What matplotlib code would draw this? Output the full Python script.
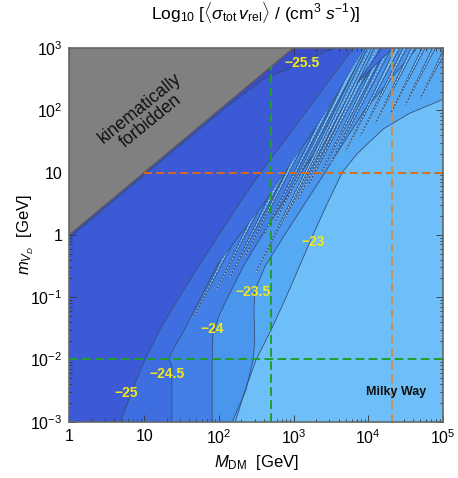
import matplotlib
matplotlib.use('Agg')
import matplotlib.pyplot as plt
import matplotlib.ticker as mticker
from matplotlib.patches import Polygon

plt.rcParams['font.family'] = ['Liberation Sans', 'DejaVu Sans']
plt.rcParams['mathtext.fontset'] = 'custom'
plt.rcParams['mathtext.rm'] = 'Liberation Sans'
plt.rcParams['mathtext.it'] = 'Liberation Sans:italic'
plt.rcParams['mathtext.bf'] = 'Liberation Sans:bold'

# contour boundaries, as (log10 m_V, log10 M_DM) pairs
# level -25.5 (thin strip under the forbidden line)
b255_logm = [-0.05, 1.0, 2.0, 2.5, 2.65, 2.85, 3.0]
b255_logM = [0.0, 1.04, 2.05, 2.6, 2.91, 3.25, 3.55]
# level -25
b25_logm = [-3.0, -2.5, -2.0, -1.5, -1.0, -0.5, 0.0, 0.5, 1.0, 1.5, 2.0, 2.5, 3.0]
b25_logM = [0.685, 0.84, 1.01, 1.22, 1.47, 1.73, 2.0, 2.27, 2.56, 2.87, 3.18, 3.49, 3.8]
# level -24.5
b245_logm = [-3.0, -2.1, -2.0, -1.9, -1.5, -1.0, -0.5, 0.0, 0.5, 1.0, 1.5, 2.0, 2.5, 3.0]
b245_logM = [1.37, 1.37, 1.33, 1.36, 1.55, 1.76, 1.97, 2.28, 2.6, 2.88, 3.17, 3.45, 3.7, 3.95]
# level -24
b24_logm = [-3.0, -2.0, -1.6, -1.3, -1.0, -0.5, 0.0, 0.5, 1.0, 1.5, 2.0, 2.5, 3.0]
b24_logM = [1.91, 1.91, 1.92, 2.0, 2.12, 2.33, 2.58, 2.85, 3.1, 3.38, 3.65, 3.95, 4.25]
# level -23.5
b235_logm = [-3.0, -2.5, -2.0, -1.7, -1.2, -0.9, -0.5, 0.0, 0.5, 1.0, 1.5, 2.0, 2.5, 3.0]
b235_logM = [2.18, 2.36, 2.46, 2.48, 2.47, 2.48, 2.62, 2.88, 3.15, 3.42, 3.68, 3.95, 4.3, 4.65]
# level -23
b23_logm = [-3.0, -2.5, -2.0, -1.5, -1.0, -0.5, 0.0, 0.5, 1.0, 1.3, 1.7, 1.95, 2.2, 3.0]
b23_logM = [2.22, 2.35, 2.5, 2.71, 2.9, 3.08, 3.26, 3.45, 3.65, 3.85, 4.2, 4.55, 5.05, 5.05]

# resonance tongues: tip (log10 M, log10 m), far end at the top edge, end width
tongue_tip_M = [1.66, 1.97, 2.15, 2.35, 2.5, 2.6, 2.75, 2.9, 3.05, 3.2, 3.35, 3.5,
                3.7, 3.9, 4.1, 4.3, 4.5, 4.7]
tongue_tip_m = [-1.33, -0.88, -0.68, -0.35, -0.6, 0.0, 0.2, 0.3, 0.55, 0.8, 0.95, 1.15,
                1.35, 1.6, 1.8, 1.95, 2.1, 2.2]
tongue_end_M = [3.48, 3.6, 3.7, 3.76, 4.0, 3.86, 3.93, 4.03, 4.08, 4.12, 4.21, 4.28,
                4.39, 4.49, 4.6, 4.74, 4.88, 5.04]
tongue_width = [0.2, 0.16, 0.14, 0.1, 0.08, 0.09, 0.07, 0.08, 0.07, 0.08, 0.06, 0.07,
                0.06, 0.05, 0.05, 0.04, 0.04, 0.04]
tongue_level = [4, 4, 4, 5, 5, 4, 5, 4, 5, 4, 5, 4, 5, 5, 5, 5, 5, 5]

# wider dark resonance dip near the top
dip_tip = (3.85, 2.44)
dip_end_M = [4.18, 4.33]

level_colors = ['#3a4cc8', '#3c5ad6', '#3e6ee0', '#4280e8', '#4a96ee', '#56aaf3', '#6ebef7']
line_color = '#34507a'

fig = plt.figure(figsize=(4.58, 4.78), dpi=100)
ax = fig.add_axes([0.1517, 0.1178, 0.8155, 0.7818])
ax.set_xscale('log')
ax.set_yscale('log')
ax.set_xlim(1, 1e5)
ax.set_ylim(1e-3, 1e3)


def fill_left(logM, logm, color):
    xs = [1.0] + [10 ** v for v in logM] + [1.0]
    ys = [10 ** logm[0]] + [10 ** v for v in logm] + [10 ** logm[-1]]
    ax.fill(xs, ys, color=color, lw=0, zorder=1)
    ax.plot([10 ** v for v in logM], [10 ** v for v in logm],
            color=line_color, lw=0.6, zorder=2)


# background = highest level, then layer the lower levels on top from the left
ax.fill([1, 1e5, 1e5, 1], [1e-3, 1e-3, 1e3, 1e3], color=level_colors[6], lw=0, zorder=0)
fill_left(b23_logM, b23_logm, level_colors[5])
fill_left(b235_logM, b235_logm, level_colors[4])
fill_left(b24_logM, b24_logm, level_colors[3])

# tongues live right of the -24.5 line
clip_xy = ([(10 ** a, 10 ** b) for a, b in zip(b245_logM, b245_logm)]
           + [(10 ** 5.3, 1e3), (10 ** 5.3, 1e-3)])
clip = Polygon(clip_xy, closed=True, transform=ax.transData, visible=False)
ax.add_patch(clip)

for i in range(len(tongue_tip_M)):
    tx, ty = 10 ** tongue_tip_M[i], 10 ** tongue_tip_m[i]
    e1 = 10 ** (tongue_end_M[i] - tongue_width[i] / 2)
    e2 = 10 ** (tongue_end_M[i] + tongue_width[i] / 2)
    p = ax.fill([tx, e1, e2], [ty, 1e3, 1e3], facecolor=level_colors[tongue_level[i]],
                edgecolor='none', zorder=3)[0]
    p.set_clip_path(clip)
    for ex in (e1, e2):
        ln = ax.plot([tx, ex], [ty, 1e3], color=line_color, lw=0.6, zorder=3)[0]
        ln.set_clip_path(clip)
    mid = ax.plot([tx, 10 ** tongue_end_M[i]], [ty, 1e3], color='#b4dcf6', lw=0.7,
                  ls=(0, (1.5, 2)), zorder=3)[0]
    mid.set_clip_path(clip)

dx = [10 ** dip_tip[0], 10 ** dip_end_M[0], 10 ** dip_end_M[1]]
dy = [10 ** dip_tip[1], 1e3, 1e3]
ax.fill(dx, dy, facecolor=level_colors[2], edgecolor=line_color, lw=0.6, zorder=3)

fill_left(b245_logM, b245_logm, level_colors[2])
fill_left(b25_logM, b25_logm, level_colors[1])
fill_left(b255_logM, b255_logm, level_colors[0])

# kinematically forbidden region
ax.fill([1, 1e3, 1], [1, 1e3, 1e3], color='#808080', lw=0, zorder=4)
ax.plot([1, 1e3], [1, 1e3], color='#5a5a5a', lw=1.0, zorder=4)
ax.text(10 ** 1.02, 10 ** 1.93, 'kinematically\nforbidden', rotation=39,
        ha='center', va='center', multialignment='center', fontsize=12.8,
        color='#111111', linespacing=1.0, zorder=5)

# reference lines
ax.plot([1, 1e5], [1e-2, 1e-2], color='#1fa02a', lw=1.4, ls=(0, (4.5, 2.2)), zorder=6)
ax.plot([500, 500], [1e-3, 500], color='#1fa02a', lw=1.4, ls=(0, (4.5, 2.2)), zorder=6)
ax.plot([10, 1e5], [10, 10], color='#e06a10', lw=1.3, ls=(0, (4.5, 2.2)), zorder=6)
ax.plot([2.1e4, 2.1e4], [1e-3, 1e3], color='#c89050', lw=1.4, ls=(0, (4.5, 2.2)), zorder=6)

# contour labels
lab_text = ['\u221225.5', '\u221225', '\u221224.5', '\u221224', '\u221223.5', '\u221223']
lab_logM = [3.12, 0.76, 1.31, 1.91, 2.46, 3.26]
lab_logm = [2.76, -2.54, -2.23, -1.51, -0.92, -0.11]
for t, lx, ly in zip(lab_text, lab_logM, lab_logm):
    ax.text(10 ** lx, 10 ** ly, t, ha='center', va='center', fontsize=10,
            fontweight='bold', color='#f4e61a', zorder=7)

ax.text(10 ** 4.37, 10 ** -2.52, 'Milky Way', ha='center', va='center',
        fontsize=9, fontweight='bold', color='#111111', zorder=7)

xt_labels = ['1', '10', r'$10^2$', r'$10^3$', r'$10^4$', r'$10^5$']
yt_labels = [r'$10^{-3}$', r'$10^{-2}$', r'$10^{-1}$', '1', '10', r'$10^2$', r'$10^3$']
ax.set_xticks([1, 10, 100, 1e3, 1e4, 1e5])
ax.set_xticklabels(xt_labels)
ax.set_yticks([1e-3, 1e-2, 1e-1, 1, 10, 100, 1e3])
ax.set_yticklabels(yt_labels)
ax.xaxis.set_minor_locator(mticker.LogLocator(base=10, subs=range(2, 10), numticks=20))
ax.yaxis.set_minor_locator(mticker.LogLocator(base=10, subs=range(2, 10), numticks=20))
ax.xaxis.set_minor_formatter(mticker.NullFormatter())
ax.yaxis.set_minor_formatter(mticker.NullFormatter())
ax.tick_params(which='both', direction='in', top=True, right=True,
               color='#333333', labelsize=11.5, width=0.6)
ax.tick_params(which='major', length=5, pad=5)
ax.tick_params(which='minor', length=2.5)
for s in ax.spines.values():
    s.set_color('#666666')
    s.set_linewidth(1.2)
    s.set_zorder(8)

ax.set_xlabel(r'$M_{\rm DM}$  [GeV]', fontsize=12, labelpad=4)
ax.set_ylabel(r'$m_{V_D}$  [GeV]', fontsize=12, labelpad=-4)
ax.set_title(r'Log$_{10}$ [$\langle\sigma_{\rm tot}\, v_{\rm rel}\rangle$ / (cm$^3$ $s^{-1}$)]',
             fontsize=12.5, pad=21)

fig.savefig('out.png', dpi=100)
